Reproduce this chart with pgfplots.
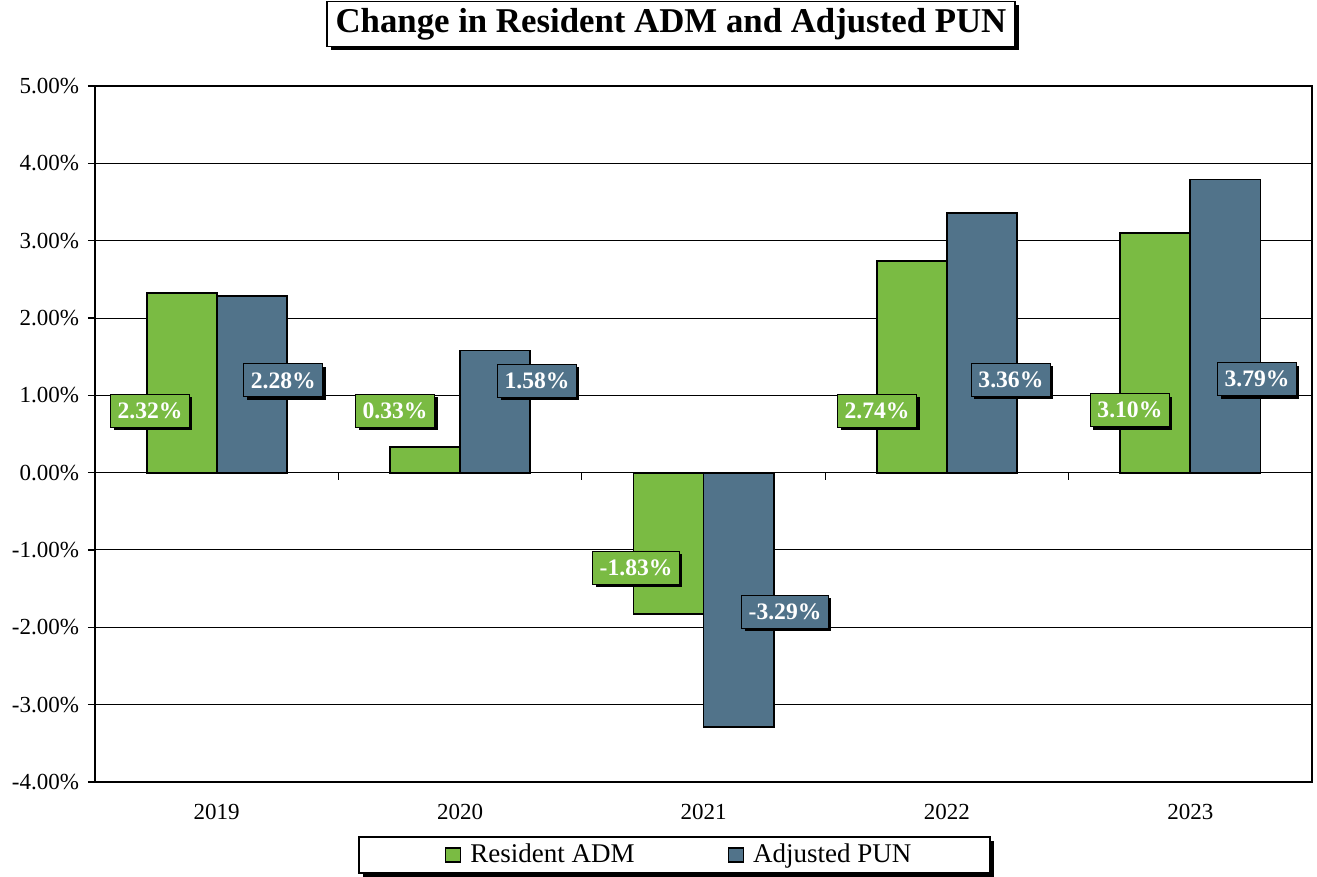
\documentclass[border=0pt]{standalone}
\usepackage{pgfplots}
\pgfplotsset{compat=1.18}
\usepackage{fontspec}
\setmainfont{Liberation Serif}
\usetikzlibrary{shadows}
\definecolor{admgreen}{RGB}{122,187,67}
\definecolor{punblue}{RGB}{81,115,138}
\begin{document}
\begin{tikzpicture}[
  lbl/.style={draw=black, line width=0.5pt, text=white,
    font=\bfseries\fontsize{11.8}{13}\selectfont, inner xsep=3.5pt, inner ysep=0pt,
    minimum height=16.5pt,
    drop shadow={shadow xshift=1.5pt, shadow yshift=-1.5pt, fill=black, opacity=1}}]
\useasboundingbox (-47.5pt,-47.5pt) rectangle (611pt,391pt);
% legend frame (drawn first, entries come from the axis legend)
\node[draw=black, line width=0.6pt, fill=white, minimum width=315.5pt, minimum height=18pt,
  inner sep=0pt,
  drop shadow={shadow xshift=1.8pt, shadow yshift=-1.8pt, fill=black, opacity=1}]
  at (289.75pt,-36.5pt) {};
\begin{axis}[
  at={(0,0)}, anchor=south west,
  scale only axis, width=608.5pt, height=348pt,
  ybar=0pt, bar width=0.288,
  xmin=-0.5, xmax=4.5, ymin=-4, ymax=5,
  xtick={0,1,2,3,4}, xticklabels={2019,2020,2021,2022,2023},
  major x tick style={draw=none},
  xtick pos=bottom, ytick pos=left,
  ytick={-4,-3,-2,-1,0,1,2,3,4,5},
  yticklabels={-4.00\%,-3.00\%,-2.00\%,-1.00\%,0.00\%,1.00\%,2.00\%,3.00\%,4.00\%,5.00\%},
  tick align=outside, major tick length=3.5pt,
  ymajorgrids, grid style={black, line width=0.5pt},
  axis line style={black, line width=0.6pt},
  tick style={black, line width=0.6pt},
  ticklabel style={font=\fontsize{11.5}{13}\selectfont},
  xticklabel style={yshift=-4pt},
  yticklabel style={xshift=-1pt},
  legend columns=2,
  legend cell align=left,
  legend style={at={(0.4803,-0.10489)}, anchor=center, draw=none,
    fill=none, font=\fontsize{13.5}{15}\selectfont,
    inner sep=0pt,
    nodes={inner ysep=1pt, inner xsep=1.5pt},
    /tikz/every even column/.append style={column sep=45pt}},
]
\addplot[fill=admgreen, draw=black, line width=0.9pt,
  legend image code/.code={\draw[fill=admgreen, draw=black, line width=0.6pt] (0pt,-3.5pt) rectangle (7.5pt,3.5pt); \path (10.5pt,0pt);}]
  coordinates {(0,2.32) (1,0.33) (2,-1.83) (3,2.74) (4,3.10)};
\addlegendentry{Resident ADM}
\addplot[fill=punblue, draw=black, line width=0.9pt,
  legend image code/.code={\draw[fill=punblue, draw=black, line width=0.6pt] (0pt,-3.5pt) rectangle (7.5pt,3.5pt); \path (10.5pt,0pt);}]
  coordinates {(0,2.28) (1,1.58) (2,-3.29) (3,3.36) (4,3.79)};
\addlegendentry{Adjusted PUN}
\draw[black, line width=0.6pt] (axis cs:0.5,0) -- ++(0pt,-3.5pt);
\draw[black, line width=0.6pt] (axis cs:1.5,0) -- ++(0pt,-3.5pt);
\draw[black, line width=0.6pt] (axis cs:2.5,0) -- ++(0pt,-3.5pt);
\draw[black, line width=0.6pt] (axis cs:3.5,0) -- ++(0pt,-3.5pt);
\draw[black, line width=1.2pt] (rel axis cs:0,0) -- (rel axis cs:0,1);
\node[lbl, fill=admgreen] at (axis cs:-0.274,0.798) {2.32\%};
\node[lbl, fill=punblue] at (axis cs:0.274,1.192) {2.28\%};
\node[lbl, fill=admgreen] at (axis cs:0.733,0.798) {0.33\%};
\node[lbl, fill=punblue] at (axis cs:1.316,1.186) {1.58\%};
\node[lbl, fill=admgreen] at (axis cs:1.723,-1.232) {-1.83\%};
\node[lbl, fill=punblue] at (axis cs:2.335,-1.801) {-3.29\%};
\node[lbl, fill=admgreen] at (axis cs:2.713,0.798) {2.74\%};
\node[lbl, fill=punblue] at (axis cs:3.263,1.199) {3.36\%};
\node[lbl, fill=admgreen] at (axis cs:3.752,0.81) {3.10\%};
\node[lbl, fill=punblue] at (axis cs:4.274,1.21) {3.79\%};
\end{axis}
\node[draw=black, line width=0.7pt, fill=white, minimum width=344pt, minimum height=22.5pt,
  inner sep=0pt, font=\bfseries\fontsize{17.4}{20}\selectfont,
  drop shadow={shadow xshift=2pt, shadow yshift=-2pt, fill=black, opacity=1}]
  at (288pt,379pt) {Change in Resident ADM and Adjusted PUN};
\end{tikzpicture}
\end{document}
